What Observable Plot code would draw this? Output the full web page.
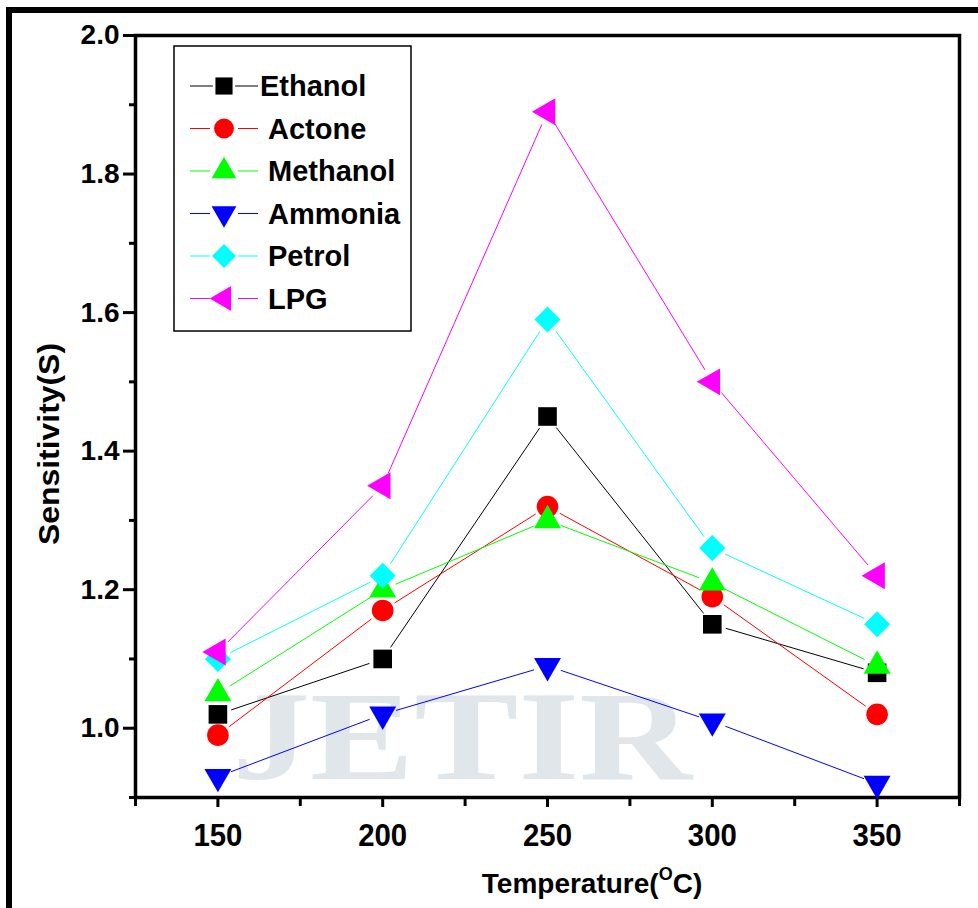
<!DOCTYPE html>
<html>
<head>
<meta charset="utf-8">
<script src="https://cdn.jsdelivr.net/npm/d3@7"></script>
<script src="https://cdn.jsdelivr.net/npm/@observablehq/plot@0.6"></script>
<style>
  html, body { margin: 0; padding: 0; background: #fff; }
  #chart svg { display: block; }
</style>
</head>
<body>
<div id="chart"></div>
<script>
// ---- data ----
const temps = [150, 200, 250, 300, 350];
const ethanol  = [1.02, 1.10, 1.45, 1.15, 1.08];
const actone   = [0.99, 1.17, 1.32, 1.19, 1.02];
const methanol = [1.05, 1.20, 1.30, 1.21, 1.09];
const ammonia  = [0.93, 1.02, 1.09, 1.01, 0.92];
const petrol   = [1.10, 1.22, 1.59, 1.26, 1.15];
const lpg      = [1.11, 1.35, 1.89, 1.50, 1.22];
const seriesNames = ["Ethanol", "Actone", "Methanol", "Ammonia", "Petrol", "LPG"];
const seriesValues = [ethanol, actone, methanol, ammonia, petrol, lpg];
const xMajorTicks = [150, 200, 250, 300, 350];
const xMinorTicks = [125, 175, 225, 275, 325, 375];
const yMajorTicks = [1.0, 1.2, 1.4, 1.6, 1.8, 2.0];
const yMinorTicks = [0.9, 1.1, 1.3, 1.5, 1.7, 1.9];
const xLabel = "Temperature(";
const xLabelSup = "O";
const xLabelEnd = "C)";
const yLabel = "Sensitivity(S)";
const watermark = "JETIR";

// ---- styles ----
const seriesColors = ["#000000", "#ff0000", "#00ff00", "#0000ff", "#00ffff", "#ff00ff"];
const seriesShapes = [
  {symbol: "square", rotate: 0, r: 10.5},
  {symbol: "circle", rotate: 0, r: 10.8},
  {symbol: "triangle", rotate: 0, r: 10},
  {symbol: "triangle", rotate: 180, r: 10},
  {symbol: "square", rotate: 45, r: 10.4},
  {symbol: "triangle", rotate: -90, r: 10}
];
const FONT = "'Liberation Sans', Arial, sans-serif";

// ---- tables built from the arrays ----
const points = [];
const segments = [];
seriesNames.forEach((name, s) => {
  const vals = seriesValues[s];
  temps.forEach((t, i) => points.push({series: name, s, temp: t, value: vals[i]}));
  for (let i = 0; i < temps.length - 1; i++) {
    segments.push({series: name, s, x1: temps[i], y1: vals[i], x2: temps[i + 1], y2: vals[i + 1]});
  }
});

const marks = [];
// axes
marks.push(Plot.axisY({ticks: yMinorTicks, tickSize: 6, strokeWidth: 3, tickFormat: () => "", label: null}));
marks.push(Plot.axisY({ticks: yMajorTicks, tickSize: 12, tickPadding: 4, strokeWidth: 3, tickFormat: d3.format(".1f"),
  fontSize: 28, fontWeight: "bold", label: null}));
marks.push(Plot.axisX({ticks: xMinorTicks, tickSize: 9, strokeWidth: 3, tickFormat: () => "", label: null}));
marks.push(Plot.axisX({ticks: xMajorTicks, tickSize: 10, tickPadding: 16, strokeWidth: 3, tickFormat: d3.format("d"),
  fontSize: 32, fontWeight: "bold", label: null}));
marks.push(Plot.frame({strokeWidth: 3.5, stroke: "#000"}));

// series: segments with gaps, then markers
seriesNames.forEach((name, s) => {
  marks.push(Plot.arrow(segments.filter(d => d.s === s), {
    x1: "x1", y1: "y1", x2: "x2", y2: "y2",
    stroke: seriesColors[s], strokeWidth: 1, headLength: 0, inset: 14, strokeLinecap: "butt"
  }));
  marks.push(Plot.dot(points.filter(d => d.s === s), {
    x: "temp", y: "value", symbol: seriesShapes[s].symbol, rotate: seriesShapes[s].rotate,
    r: seriesShapes[s].r, fill: seriesColors[s], stroke: "none"
  }));
});

const plot = Plot.plot({
  width: 978,
  height: 908,
  marginLeft: 135,
  marginRight: 19,
  marginTop: 35,
  marginBottom: 111,
  style: {fontFamily: FONT, color: "#000", background: "#fff"},
  x: {domain: [125, 375]},
  y: {domain: [0.9, 2.0]},
  marks
});
document.getElementById("chart").appendChild(plot);

// ---- decorations added around the plot ----
const svg = d3.select(plot);

// faint watermark behind everything
svg.insert("text", ":first-child")
  .attr("x", 462).attr("y", 779)
  .attr("text-anchor", "middle")
  .attr("font-family", "'Liberation Serif', 'DejaVu Serif', serif")
  .attr("font-weight", "bold")
  .attr("font-size", 128)
  .attr("textLength", 460).attr("lengthAdjust", "spacingAndGlyphs")
  .attr("fill", "#cdd5dc")
  .attr("fill-opacity", 0.6)
  .text(watermark);

// condense x tick labels slightly, like the reference
svg.selectAll("g[aria-label='x-axis tick label'] text").each(function() {
  if (this.textContent) d3.select(this).attr("textLength", 49).attr("lengthAdjust", "spacingAndGlyphs");
});

// y axis title
svg.append("text")
  .attr("transform", "translate(59,444) rotate(-90)")
  .attr("text-anchor", "middle")
  .attr("font-family", FONT).attr("font-weight", "bold").attr("font-size", 29)
  .attr("textLength", 202).attr("lengthAdjust", "spacingAndGlyphs")
  .text(yLabel);

// x axis title with superscript
const xt = svg.append("text")
  .attr("x", 592).attr("y", 893)
  .attr("text-anchor", "middle")
  .attr("font-family", FONT).attr("font-weight", "bold").attr("font-size", 28);
xt.append("tspan").text(xLabel);
xt.append("tspan").attr("font-size", 18).attr("dy", -13).text(xLabelSup);
xt.append("tspan").attr("dy", 13).text(xLabelEnd);

// legend box
const lg = svg.append("g").attr("text-anchor", "start");
lg.append("rect").attr("x", 174).attr("y", 46).attr("width", 237).attr("height", 285)
  .attr("fill", "#fff").attr("stroke", "#000").attr("stroke-width", 1.5);
const symType = {square: d3.symbolSquare, circle: d3.symbolCircle, triangle: d3.symbolTriangle};
seriesNames.forEach((name, s) => {
  const cy = 86 + s * 42.5;
  const cx = 224;
  const gap = s === 0 ? 11 : 14;
  lg.append("line").attr("x1", 190).attr("x2", cx - gap).attr("y1", cy).attr("y2", cy)
    .attr("stroke", seriesColors[s]).attr("stroke-width", 1);
  lg.append("line").attr("x1", cx + gap).attr("x2", 258).attr("y1", cy).attr("y2", cy)
    .attr("stroke", seriesColors[s]).attr("stroke-width", 1);
  const sh = seriesShapes[s];
  const r = sh.r * 0.92;
  lg.append("path")
    .attr("d", d3.symbol().type(symType[sh.symbol]).size(Math.PI * r * r)())
    .attr("transform", `translate(${cx},${cy}) rotate(${sh.rotate})`)
    .attr("fill", seriesColors[s]);
  lg.append("text").attr("x", s === 0 ? 260 : 268).attr("y", cy).attr("dy", "0.36em")
    .attr("text-anchor", "start")
    .attr("font-family", FONT).attr("font-weight", "bold").attr("font-size", 29)
    .text(name);
});

// outer picture border (right and bottom sides fall outside the view)
svg.append("rect").attr("x", 9).attr("y", 10).attr("width", 1200).attr("height", 1200)
  .attr("fill", "none").attr("stroke", "#000").attr("stroke-width", 6);
</script>
</body>
</html>
